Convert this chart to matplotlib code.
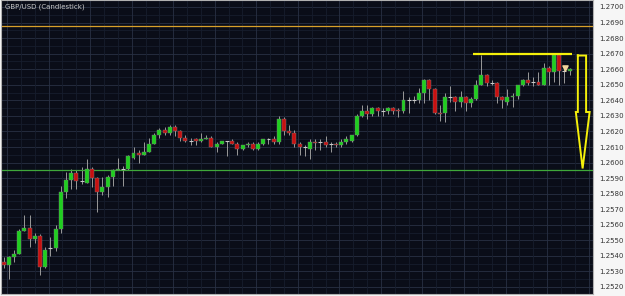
import numpy as np
import matplotlib
matplotlib.use("Agg")
import matplotlib.pyplot as plt

# GBP/USD candles: open, high, low, close
opens = [1.2536, 1.2534, 1.2539, 1.2541, 1.2556, 1.2558, 1.2551, 1.2553, 1.2533, 1.2545,
         1.2545, 1.2557, 1.2581, 1.2589, 1.2593, 1.2588, 1.2587, 1.2596, 1.2590, 1.2581,
         1.2584, 1.2591, 1.2595, 1.2596, 1.2596, 1.2603, 1.2606, 1.2605, 1.2607, 1.2612,
         1.2618, 1.2621, 1.2619, 1.2623, 1.2620, 1.2616, 1.2614, 1.2615, 1.2614, 1.2615,
         1.2616, 1.2610, 1.2612, 1.2614, 1.2614, 1.2612, 1.2609, 1.2611, 1.2612, 1.2609,
         1.2612, 1.2615, 1.2615, 1.2613, 1.2628, 1.2620, 1.2619, 1.2612, 1.2610, 1.2609,
         1.26134, 1.2613, 1.2613, 1.2612, 1.2612, 1.2611, 1.2613, 1.2614, 1.2618, 1.2630,
         1.2633, 1.2631, 1.2635, 1.2633, 1.2633, 1.2635, 1.2634, 1.2633, 1.2640, 1.2640,
         1.2640, 1.2645, 1.2653, 1.2647, 1.2632, 1.2632, 1.2642, 1.2642, 1.2639, 1.2642,
         1.2638, 1.2641, 1.2650, 1.2656, 1.2651, 1.2651, 1.2642, 1.2639, 1.2642, 1.2643,
         1.2650, 1.2653, 1.2652, 1.2652, 1.2650, 1.2661, 1.2658, 1.2669, 1.2659, 1.2659]
highs = [1.2539, 1.2540, 1.2544, 1.2557, 1.2566, 1.2566, 1.2555, 1.2554, 1.2546, 1.2552,
         1.2560, 1.2585, 1.2594, 1.2596, 1.2595, 1.2597, 1.2602, 1.2597, 1.2591, 1.2591,
         1.2592, 1.2596, 1.2603, 1.2598, 1.2605, 1.2610, 1.2608, 1.2613, 1.2616, 1.2619,
         1.2622, 1.2623, 1.2624, 1.2624, 1.2621, 1.2618, 1.2616, 1.2616, 1.2619, 1.2618,
         1.2617, 1.2613, 1.2614, 1.2614, 1.2615, 1.2613, 1.2611, 1.2613, 1.2613, 1.2613,
         1.2615, 1.2616, 1.2617, 1.2630, 1.2629, 1.2624, 1.2621, 1.2613, 1.2611, 1.2615,
         1.2615, 1.2615, 1.2617, 1.2613, 1.2613, 1.2615, 1.2617, 1.2618, 1.2631, 1.2637,
         1.2637, 1.2636, 1.2636, 1.2635, 1.2636, 1.2636, 1.2635, 1.2646, 1.2642, 1.2643,
         1.2648, 1.2654, 1.2654, 1.2648, 1.2637, 1.2645, 1.2649, 1.2643, 1.2646, 1.2643,
         1.2642, 1.2653, 1.2669, 1.2657, 1.2653, 1.2652, 1.2643, 1.2647, 1.2645, 1.2650,
         1.2654, 1.2658, 1.2655, 1.2658, 1.2664, 1.2662, 1.2670, 1.2670, 1.2662, 1.2661]
lows = [1.2532, 1.2525, 1.2536, 1.2541, 1.2556, 1.2546, 1.2548, 1.2528, 1.2532, 1.2540,
        1.2543, 1.2555, 1.2577, 1.2583, 1.2583, 1.2586, 1.2587, 1.2584, 1.2568, 1.2579,
        1.2578, 1.2585, 1.2595, 1.2585, 1.2595, 1.2602, 1.2600, 1.2605, 1.2607, 1.2612,
        1.2616, 1.2618, 1.2618, 1.2617, 1.2614, 1.2613, 1.2611, 1.2611, 1.2613, 1.2615,
        1.2610, 1.2607, 1.2612, 1.2604, 1.2612, 1.2605, 1.2608, 1.2610, 1.2608, 1.2608,
        1.2611, 1.2612, 1.2612, 1.2612, 1.2618, 1.2618, 1.2610, 1.2605, 1.2604, 1.2602,
        1.2608, 1.2608, 1.2610, 1.2607, 1.2610, 1.2610, 1.2612, 1.2613, 1.2617, 1.2629,
        1.2628, 1.2630, 1.2630, 1.2630, 1.2631, 1.2631, 1.2629, 1.2632, 1.2632, 1.2638,
        1.2638, 1.2638, 1.2640, 1.2631, 1.2627, 1.2626, 1.2639, 1.2633, 1.2636, 1.2633,
        1.2636, 1.2640, 1.2650, 1.2649, 1.2650, 1.2638, 1.2635, 1.2637, 1.2636, 1.2641,
        1.2649, 1.2650, 1.2649, 1.2650, 1.2650, 1.2650, 1.2652, 1.2650, 1.2651, 1.2656]
closes = [1.2534, 1.2539, 1.2541, 1.2556, 1.2558, 1.2551, 1.2553, 1.2533, 1.2544, 1.2545,
          1.2557, 1.2581, 1.2589, 1.2593, 1.2588, 1.2588, 1.2596, 1.2590, 1.2581, 1.2584,
          1.2591, 1.2595, 1.2596, 1.2596, 1.2604, 1.2606, 1.2605, 1.2607, 1.2612, 1.2618,
          1.2621, 1.2619, 1.2623, 1.2620, 1.2616, 1.2614, 1.2614, 1.2614, 1.2615, 1.2616,
          1.2610, 1.2612, 1.2614, 1.2614, 1.2612, 1.2609, 1.2611, 1.2612, 1.2609, 1.2612,
          1.2615, 1.2615, 1.2613, 1.2628, 1.2620, 1.2619, 1.2612, 1.2610, 1.2610, 1.2613,
          1.26127, 1.2613, 1.2611, 1.2612, 1.2611, 1.2613, 1.2615, 1.2618, 1.2630, 1.2633,
          1.2631, 1.2635, 1.2633, 1.2633, 1.2635, 1.2633, 1.2633, 1.2640, 1.2640, 1.2640,
          1.2645, 1.2653, 1.2647, 1.2632, 1.2631, 1.2642, 1.2642, 1.2639, 1.2642, 1.2638,
          1.2641, 1.2650, 1.2656, 1.2651, 1.2651, 1.2642, 1.2640, 1.2642, 1.2643, 1.2650,
          1.2653, 1.2651, 1.2652, 1.2650, 1.2661, 1.2658, 1.2669, 1.2659, 1.2659, 1.2660]

# horizontal levels and hand-drawn annotations
resistance = 1.26878
support = 1.25955
top_line_price = 1.26698
top_line_span = [90.4, 109.5]
arrow_x = [110.58, 112.17, 112.17, 112.85, 111.5, 110.19, 110.58, 110.58]
arrow_y = [1.26688, 1.26688, 1.26325, 1.26325, 1.25962, 1.26325, 1.26325, 1.26688]
marker_price = 1.2661

ticks = np.round(np.arange(1.2520, 1.27001, 0.001), 4)

BG = "#0a0d18"
GREEN = "#1fcf1f"
RED = "#c81010"

fig = plt.figure(figsize=(6.25, 2.96), dpi=100, facecolor="#f6f6f6")
ax = fig.add_axes([1 / 625, 2 / 296, 592 / 625, 294 / 296])
ax.set_facecolor(BG)

ax.set_xlim(-0.52, 113.5)
ax.set_ylim(1.25155, 1.27045)

# grid
for y in np.arange(1.2520, 1.2705, 0.0005):
    major = abs(round(y * 10000) % 10) < 1e-6
    ax.axhline(y, color="#283044" if major else "#161d2d", lw=0.6, zorder=0)
for k in range(-1, 45):
    x = 0.65 + k * 8 / 3
    ax.axvline(x, color="#283044" if k % 3 == 0 else "#161d2d", lw=0.6, zorder=0)

n = len(opens)
idx = np.arange(n)
o = np.array(opens)
h = np.array(highs)
l = np.array(lows)
c = np.array(closes)

ax.vlines(idx, l, h, color="#9a9a9a", lw=0.7, zorder=2)
for i in range(n):
    if abs(c[i] - o[i]) < 1e-5:
        ax.hlines(o[i], i - 0.38, i + 0.38, color="#c8c8c8", lw=0.8, zorder=3)
    else:
        col = GREEN if c[i] > o[i] else RED
        ax.bar(i, c[i] - o[i], bottom=o[i], width=0.76, color=col,
               edgecolor="#7a7a7a", linewidth=0.3, zorder=3)

ax.scatter([n - 2 + 0.15], [marker_price], marker="v", s=14, color="#f2d49a", zorder=4)

ax.axhline(resistance, color="#d9a02a", lw=0.9, zorder=2)
ax.axhline(support, color="#3fa83a", lw=0.9, zorder=2)

ax.hlines(top_line_price, top_line_span[0], top_line_span[1], color="#f5f00a", lw=1.6, zorder=5)
ax.plot(arrow_x, arrow_y, color="#f5f00a", lw=1.4, zorder=5, solid_joinstyle="miter")

ax.text(0.006, 0.988, "GBP/USD (Candlestick)", transform=ax.transAxes, ha="left", va="top",
        fontsize=5, color="#c8c8c8")

ax.set_xticks([])
ax.yaxis.tick_right()
ax.set_yticks(ticks)
ax.set_yticklabels([f"{t:.4f}" for t in ticks])
ax.tick_params(axis="y", length=0, pad=4.5, labelsize=5, labelcolor="#333333")
for s in ax.spines.values():
    s.set_color("#b0b0b0")
    s.set_linewidth(0.8)

fig.savefig("out.png", dpi=100, facecolor=fig.get_facecolor())
